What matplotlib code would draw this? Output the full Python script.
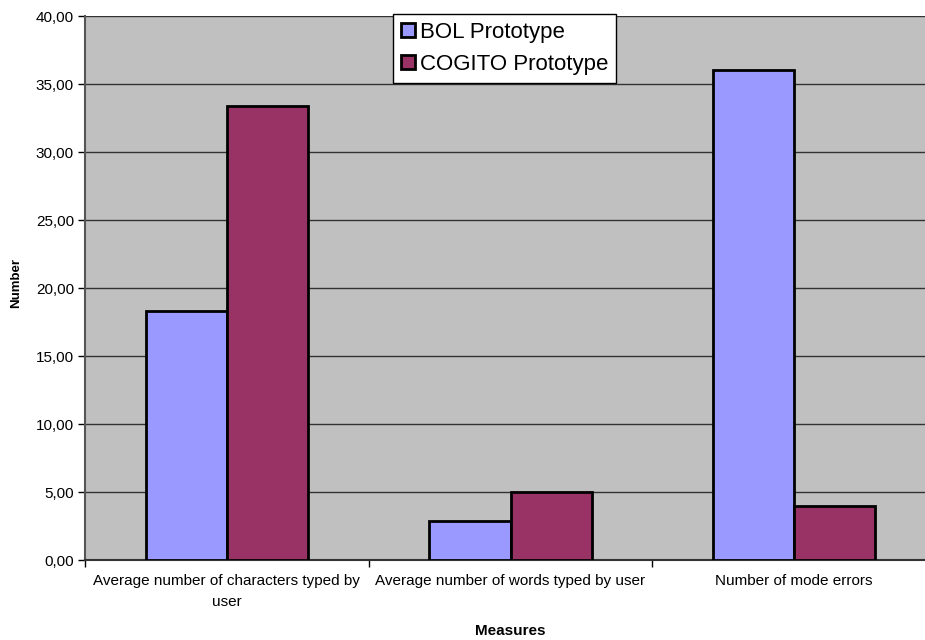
import matplotlib.pyplot as plt
from matplotlib.ticker import FuncFormatter
import numpy as np

# Measures and prototype results
measures = ["Average number of characters typed by\nuser",
            "Average number of words typed by user",
            "Number of mode errors"]
series_names = ["BOL Prototype", "COGITO Prototype"]
bol_values = [18.3, 2.9, 36.0]
cogito_values = [33.4, 5.0, 4.0]
colors = ["#9999FF", "#993366"]

plt.rcParams['font.family'] = ['Liberation Sans', 'DejaVu Sans']

fig = plt.figure(figsize=(9.25, 6.4), dpi=100)
# plot area runs a bit past the right edge of the image
ax = fig.add_axes([85/925, 1 - 560.3/640, 851/925, 544.3/640])
ax.set_facecolor("#C0C0C0")

x = np.arange(len(measures))
width = 1 / 3.5  # gap width 150%
ax.bar(x - width/2, bol_values, width, color=colors[0], edgecolor="black",
       linewidth=2, label=series_names[0], zorder=3)
ax.bar(x + width/2, cogito_values, width, color=colors[1], edgecolor="black",
       linewidth=2, label=series_names[1], zorder=3)

ax.set_xlim(-0.5, len(measures) - 0.5)
ax.set_ylim(0, 40)
ax.set_yticks(np.arange(0, 41, 5))
ax.yaxis.set_major_formatter(FuncFormatter(lambda v, p: f"{v:.2f}".replace(".", ",")))
ax.grid(axis="y", color="#333333", linewidth=1, zorder=1)

ax.set_xticks(x)
ax.set_xticklabels(measures, fontsize=11, linespacing=1.6)
ax.tick_params(axis="x", length=0, pad=10)
ax.set_xticks(np.arange(-0.5, len(measures), 1), minor=True)
ax.tick_params(axis="x", which="minor", length=5, width=1, color="black")
ax.tick_params(axis="y", length=5, width=1, labelsize=11, pad=3)

for side in ["top", "right"]:
    ax.spines[side].set_visible(False)
ax.spines["left"].set_color("#555555")
ax.spines["left"].set_linewidth(1.5)
ax.spines["bottom"].set_color("#333333")
ax.spines["bottom"].set_linewidth(1.5)

fig.text(510/925, 1 - 631/640, "Measures", ha="center", va="center",
         fontsize=11, fontweight="bold")
fig.text(16/925, 1 - 283/640, "Number", ha="center", va="center",
         rotation=90, fontsize=9.5, fontweight="bold")

leg = fig.legend(loc="upper left", bbox_to_anchor=(393/925, 1 - 14/640),
                 borderaxespad=0, fontsize=16, frameon=True, fancybox=False,
                 edgecolor="black", handlelength=0.65, handleheight=0.65,
                 handletextpad=0.2, borderpad=0.35, labelspacing=0.5)
leg.get_frame().set_linewidth(1)
leg.get_frame().set_alpha(1)

fig.savefig("out.png", dpi=100)
